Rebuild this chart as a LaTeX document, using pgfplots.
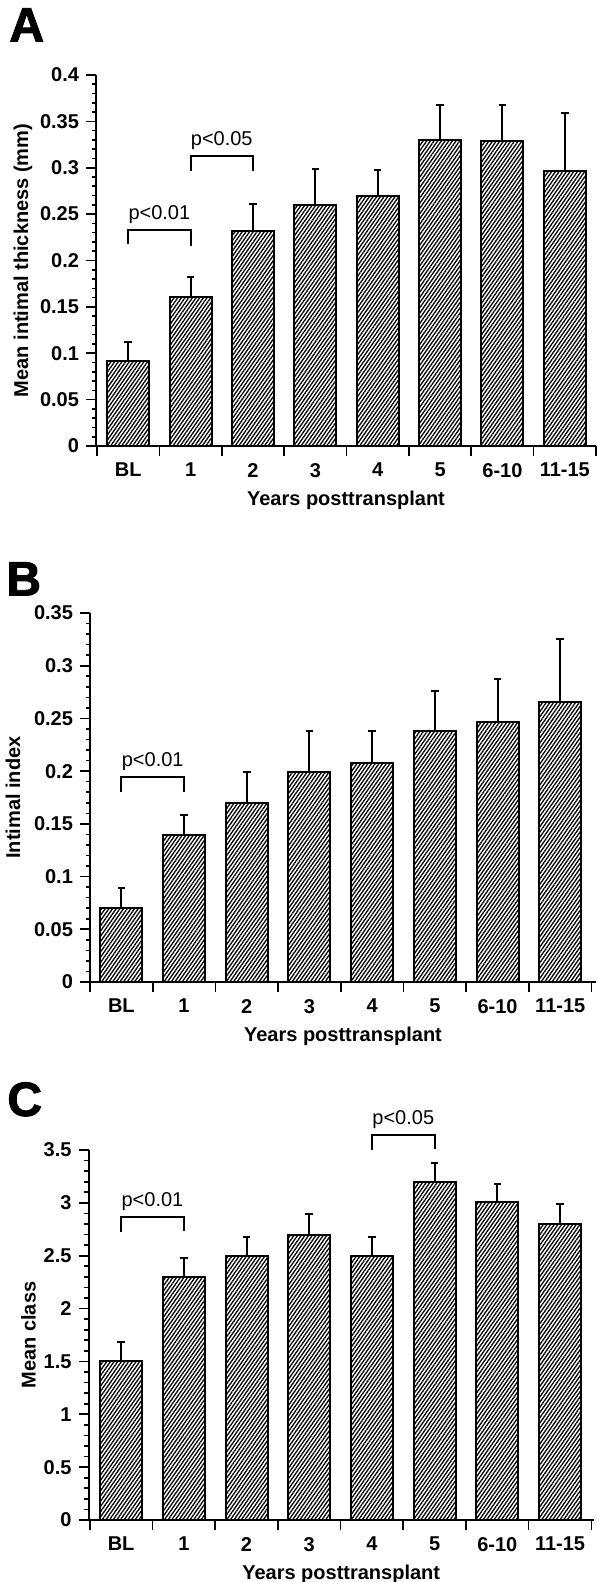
\documentclass[border=0pt]{standalone}
\usepackage{fontspec}
\setmainfont{Liberation Sans}
\newfontfamily\heavyfont[FakeBold=2]{Liberation Sans Bold}
\usepackage{pgfplots}
\pgfplotsset{compat=1.18}
\usetikzlibrary{patterns.meta}

\pgfplotsset{
  panel/.style={
    scale only axis, ybar, bar width=21pt, ymin=0,
    axis x line*=bottom, axis y line*=left,
    axis line style={line width=1pt, black},
    tick align=outside, major tick length=5pt, minor tick length=2.2pt,
    tick style={line width=0.8pt, black},
    minor y tick num=4, minor x tick num=0,
    xtick={-0.5,0.5,1.5,2.5,3.5,4.5,5.5,6.5,7.5},
    x tick label as interval,
    xticklabels={BL,1,2,3,4,5,6-10,11-15},
    ticklabel style={font=\bfseries},
    label style={font=\bfseries},
    xlabel={Years posttransplant},
    clip=false,
    /pgf/number format/assume math mode=true,
  },
  hbar/.style={draw=black, line width=1pt,
    pattern={Lines[angle=55,distance=1.5pt,line width=0.65pt]},
    error bars/.cd, y dir=plus, y explicit,
    error bar style={line width=1pt, black, solid},
    error mark options={rotate=90, mark size=1.9pt, line width=1pt, black}},
}
\tikzset{
  brk/.style={line width=1pt, black},
  ptxt/.style={anchor=south, inner sep=0pt, yshift=3pt, font=\normalfont},
  letter/.style={anchor=north west, inner sep=0pt, font=\fontsize{24}{24}\selectfont\heavyfont},
}

\begin{document}
\begin{tikzpicture}
\useasboundingbox (0,0) rectangle (298pt,791pt);

% ---------------- Panel A ----------------
\node[letter] at (4.5pt,787pt) {A};
\begin{axis}[panel,
  at={(48pt,568pt)}, anchor=south west,
  width=250pt, height=185.5pt,
  xmin=-0.516, xmax=7.5, ymax=0.4,
  ytick={0,0.05,0.1,0.15,0.2,0.25,0.3,0.35,0.4},
  yticklabels={0,0.05,0.1,0.15,0.2,0.25,0.3,0.35,0.4},
  ylabel={Mean intimal thickness (mm)},
  ylabel shift={-3pt},
]
\addplot[hbar] coordinates {
  (0,0.092) +- (0,0.020)
  (1,0.161) +- (0,0.021)
  (2,0.232) +- (0,0.029)
  (3,0.260) +- (0,0.039)
  (4,0.269) +- (0,0.029)
  (5,0.330) +- (0,0.038)
  (6,0.329) +- (0,0.039)
  (7,0.297) +- (0,0.062)
};
\draw[brk] (axis cs:0,0.218) -- (axis cs:0,0.233) -- (axis cs:1,0.233) -- (axis cs:1,0.216);
\node[ptxt] at (axis cs:0.5,0.233) {p<0.01};
\draw[brk] (axis cs:1,0.297) -- (axis cs:1,0.313) -- (axis cs:2,0.313) -- (axis cs:2,0.297);
\node[ptxt] at (axis cs:1.5,0.313) {p<0.05};
\end{axis}

% ---------------- Panel B ----------------
\node[letter] at (3pt,510pt) {B};
\begin{axis}[panel,
  at={(45pt,300pt)}, anchor=south west,
  width=253pt, height=184.5pt,
  xmin=-0.5, xmax=7.57, ymax=0.35,
  ytick={0,0.05,0.1,0.15,0.2,0.25,0.3,0.35},
  yticklabels={0,0.05,0.1,0.15,0.2,0.25,0.3,0.35},
  ylabel={Intimal index},
]
\addplot[hbar] coordinates {
  (0,0.070) +- (0,0.019)
  (1,0.139) +- (0,0.019)
  (2,0.170) +- (0,0.029)
  (3,0.199) +- (0,0.039)
  (4,0.208) +- (0,0.030)
  (5,0.238) +- (0,0.038)
  (6,0.247) +- (0,0.040)
  (7,0.266) +- (0,0.059)
};
\draw[brk] (axis cs:0,0.180) -- (axis cs:0,0.194) -- (axis cs:1,0.194) -- (axis cs:1,0.180);
\node[ptxt] at (axis cs:0.5,0.194) {p<0.01};
\end{axis}

% ---------------- Panel C ----------------
\node[letter] at (3.5pt,250pt) {C};
\begin{axis}[panel,
  at={(44.25pt,31pt)}, anchor=south west,
  width=252.7pt, height=185pt,
  xmin=-0.52, xmax=7.54, ymax=3.5,
  ytick={0,0.5,1,1.5,2,2.5,3,3.5},
  yticklabels={0,0.5,1,1.5,2,2.5,3,3.5},
  ylabel={Mean class},
  ylabel shift={-3pt},
]
\addplot[hbar] coordinates {
  (0,1.50) +- (0,0.18)
  (1,2.30) +- (0,0.18)
  (2,2.50) +- (0,0.18)
  (3,2.70) +- (0,0.19)
  (4,2.50) +- (0,0.18)
  (5,3.20) +- (0,0.18)
  (6,3.01) +- (0,0.17)
  (7,2.80) +- (0,0.19)
};
\draw[brk] (axis cs:0,2.72) -- (axis cs:0,2.87) -- (axis cs:1,2.87) -- (axis cs:1,2.73);
\node[ptxt] at (axis cs:0.5,2.87) {p<0.01};
\draw[brk] (axis cs:4,3.50) -- (axis cs:4,3.646) -- (axis cs:5,3.646) -- (axis cs:5,3.51);
\node[ptxt] at (axis cs:4.5,3.646) {p<0.05};
\end{axis}
\end{tikzpicture}
\end{document}
